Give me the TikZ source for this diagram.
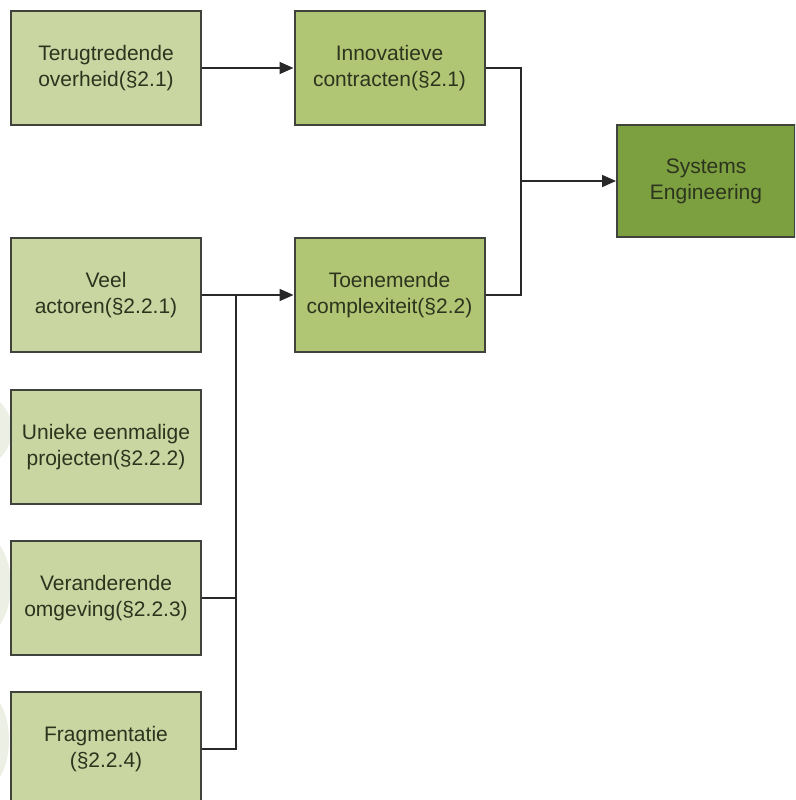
\documentclass[tikz,border=0pt]{standalone}
\usepackage{fontspec}
\setmainfont{Liberation Sans}
\usetikzlibrary{arrows.meta}
\definecolor{boxlight}{RGB}{201,214,162}
\definecolor{boxmid}{RGB}{176,198,116}
\definecolor{boxdark}{RGB}{124,160,64}
\definecolor{edgecol}{RGB}{64,66,60}
\definecolor{txtcol}{RGB}{44,52,30}
\definecolor{linecol}{RGB}{40,40,40}
\definecolor{ghost}{RGB}{236,239,227}
\begin{document}
\begin{tikzpicture}[x=1pt,y=-1pt,
  box/.style={draw=edgecol,line width=2pt,minimum width=190pt,minimum height=114pt,
    inner sep=0pt,align=center,text=txtcol,
    font=\fontsize{21}{26}\selectfont},
  light/.style={box,fill=boxlight},
  mid/.style={box,fill=boxmid},
  dark/.style={box,fill=boxdark},
  conn/.style={draw=linecol,line width=1.8pt},
  arr/.style={conn,-{Triangle[length=14pt,width=12pt]}}]
\useasboundingbox (0,0) rectangle (795,800);
\clip (0,0) rectangle (795,800);

% faint background marks along the left margin
\fill[ghost] (-30,430) ellipse (42 and 40);
\fill[ghost] (-25,585) ellipse (36 and 55);
\fill[ghost] (-25,740) ellipse (34 and 55);

\node[light] (teru) at (106,68) {Terugtredende\\overheid(§2.1)};
\node[mid]   (inno) at (389.5,68) {Innovatieve\\contracten(§2.1)};
\node[dark,minimum width=178pt,minimum height=112pt] (syse) at (706,181) {Systems\\Engineering};
\node[light] (veel) at (106,295) {Veel\\actoren(§2.2.1)};
\node[mid]   (toen) at (389.5,295) {Toenemende\\complexiteit(§2.2)};
\node[light] (uniek) at (106,447) {Unieke eenmalige\\projecten(§2.2.2)};
\node[light] (vera) at (106,598) {Veranderende\\omgeving(§2.2.3)};
\node[light] (frag) at (106,749) {Fragmentatie\\(§2.2.4)};

% junction points of the orthogonal connectors
\coordinate (jr) at (521,181);
\coordinate (jl) at (236,295);

\draw[arr] (teru.east) -- (inno.west);
\draw[conn] (inno.east) -| (jr) |- (toen.east);
\draw[arr] (jr) -- (syse.west);
\draw[arr] (veel.east) -- (toen.west);
\draw[conn] (vera.east) -| (jl);
\draw[conn] (frag.east) -| (jl);
\end{tikzpicture}
\end{document}
